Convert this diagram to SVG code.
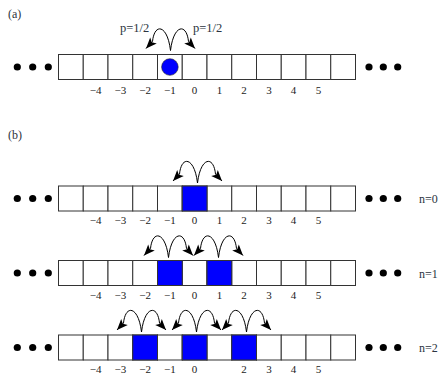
<svg xmlns="http://www.w3.org/2000/svg" width="440" height="375" viewBox="0 0 440 375">
<style>
.cell{fill:#fff;stroke:#333;stroke-width:1}
.on{fill:#0000ff;stroke:#333;stroke-width:1}
.dot{fill:#000}
.num{font-family:"Liberation Serif",serif;font-size:11px;fill:#222;text-anchor:middle}
.lbl{font-family:"Liberation Serif",serif;font-size:12px;fill:#2b3440}
.arc{fill:none;stroke:#000;stroke-width:1;marker-end:url(#ah)}
</style>
<defs>
<marker id="ah" markerUnits="userSpaceOnUse" viewBox="-12 -6 13 12" refX="0" refY="0" markerWidth="13" markerHeight="12" orient="auto">
<path d="M0,0 L-11,-4.5 L-8.5,0 L-11,4.5 Z" fill="#000"/>
</marker>
<g id="cells">
<rect class="cell" x="58.5" y="0" width="24.75" height="25"/>
<rect class="cell" x="83.25" y="0" width="24.75" height="25"/>
<rect class="cell" x="108" y="0" width="24.75" height="25"/>
<rect class="cell" x="132.75" y="0" width="24.75" height="25"/>
<rect class="cell" x="157.5" y="0" width="24.75" height="25"/>
<rect class="cell" x="182.25" y="0" width="24.75" height="25"/>
<rect class="cell" x="207" y="0" width="24.75" height="25"/>
<rect class="cell" x="231.75" y="0" width="24.75" height="25"/>
<rect class="cell" x="256.5" y="0" width="24.75" height="25"/>
<rect class="cell" x="281.25" y="0" width="24.75" height="25"/>
<rect class="cell" x="306" y="0" width="24.75" height="25"/>
<rect class="cell" x="330.75" y="0" width="24.75" height="25"/>
<circle class="dot" cx="17.3" cy="12.5" r="3.6"/>
<circle class="dot" cx="32.7" cy="12.5" r="3.6"/>
<circle class="dot" cx="48.3" cy="12.5" r="3.6"/>
<circle class="dot" cx="369" cy="12.5" r="3.6"/>
<circle class="dot" cx="383.3" cy="12.5" r="3.6"/>
<circle class="dot" cx="397.7" cy="12.5" r="3.6"/>
</g>
</defs>

<text class="lbl" x="8" y="18">(a)</text>
<text class="lbl" x="8" y="139">(b)</text>

<g id="row-a">
<use href="#cells" y="54.5"/>
<circle cx="169.9" cy="67" r="8.3" fill="#0000ff" stroke="#222" stroke-width="0.6"/>
<g class="num">
<text x="95.6" y="93.5">−4</text><text x="120.4" y="93.5">−3</text><text x="145.1" y="93.5">−2</text><text x="169.9" y="93.5">−1</text><text x="194.6" y="93.5">0</text><text x="219.4" y="93.5">1</text><text x="244.1" y="93.5">2</text><text x="268.9" y="93.5">3</text><text x="293.6" y="93.5">4</text><text x="318.4" y="93.5">5</text>
</g>
<text class="lbl" x="120" y="32" style="font-size:12.5px">p=1/2</text>
<text class="lbl" x="193" y="32" style="font-size:12.5px">p=1/2</text>
</g>

<g id="row-n0">
<use href="#cells" y="186"/>
<rect class="on" x="182.25" y="186" width="24.75" height="25"/>
<g class="num">
<text x="95.6" y="224">−4</text><text x="120.4" y="224">−3</text><text x="145.1" y="224">−2</text><text x="169.9" y="224">−1</text><text x="194.6" y="224">0</text><text x="219.4" y="224">1</text><text x="244.1" y="224">2</text><text x="268.9" y="224">3</text><text x="293.6" y="224">4</text><text x="318.4" y="224">5</text>
</g>
<text class="lbl" x="419" y="203">n=0</text>
</g>

<g id="row-n1">
<use href="#cells" y="260.5"/>
<rect class="on" x="157.5" y="260.5" width="24.75" height="25"/>
<rect class="on" x="207" y="260.5" width="24.75" height="25"/>
<g class="num">
<text x="95.6" y="298.5">−4</text><text x="120.4" y="298.5">−3</text><text x="145.1" y="298.5">−2</text><text x="169.9" y="298.5">−1</text><text x="194.6" y="298.5">0</text><text x="219.4" y="298.5">1</text><text x="244.1" y="298.5">2</text><text x="268.9" y="298.5">3</text><text x="293.6" y="298.5">4</text><text x="318.4" y="298.5">5</text>
</g>
<text class="lbl" x="419" y="277.5">n=1</text>
</g>

<g id="row-n2">
<use href="#cells" y="335"/>
<rect class="on" x="132.75" y="335" width="24.75" height="25"/>
<rect class="on" x="182.25" y="335" width="24.75" height="25"/>
<rect class="on" x="231.75" y="335" width="24.75" height="25"/>
<g class="num">
<text x="95.6" y="373">−4</text><text x="120.4" y="373">−3</text><text x="145.1" y="373">−2</text><text x="169.9" y="373">−1</text><text x="194.6" y="373">0</text><text x="244.1" y="373">2</text><text x="268.9" y="373">3</text><text x="293.6" y="373">4</text><text x="318.4" y="373">5</text>
</g>
<text class="lbl" x="419" y="352">n=2</text>
</g>

<g id="connectors">
<path class="arc" d="M170.5,50.5 C167.5,24.5 154.5,22.5 152.5,41.5 L146,48.5"/>
<path class="arc" d="M170.5,50.5 C173.5,24.5 186.5,22.5 188.5,41.5 L195,48.5"/>
<path class="arc" d="M197.5,183 C194.5,157 181.5,155 179.5,174 L173,181"/>
<path class="arc" d="M197.5,183 C200.5,157 213.5,155 215.5,174 L222,181"/>
<path class="arc" d="M168.5,257.5 C165.5,231.5 152.5,229.5 150.5,248.5 L144,255.5"/>
<path class="arc" d="M168.5,257.5 C171.5,231.5 184.5,229.5 186.5,248.5 L193,255.5"/>
<path class="arc" d="M218.5,257.5 C215.5,231.5 202.5,229.5 200.5,248.5 L194,255.5"/>
<path class="arc" d="M218.5,257.5 C221.5,231.5 234.5,229.5 236.5,248.5 L243,255.5"/>
<path class="arc" d="M141.5,332 C138.5,306 125.5,304 123.5,323 L117,330"/>
<path class="arc" d="M141.5,332 C144.5,306 157.5,304 159.5,323 L166,330"/>
<path class="arc" d="M196.5,332 C193.5,306 180.5,304 178.5,323 L172,330"/>
<path class="arc" d="M196.5,332 C199.5,306 212.5,304 214.5,323 L221,330"/>
<path class="arc" d="M246.5,332 C243.5,306 230.5,304 228.5,323 L222,330"/>
<path class="arc" d="M246.5,332 C249.5,306 262.5,304 264.5,323 L271,330"/>
</g>
</svg>
